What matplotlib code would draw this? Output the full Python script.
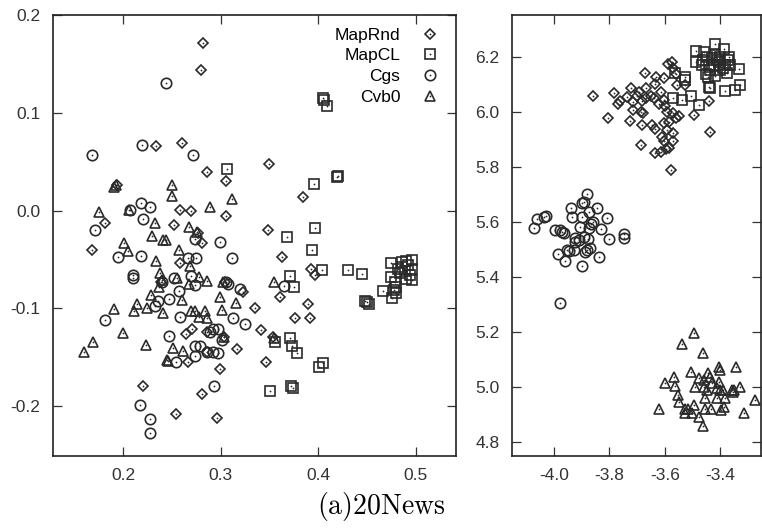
import numpy as np
import matplotlib
matplotlib.use('Agg')
import matplotlib.pyplot as plt
from matplotlib.legend_handler import HandlerTuple

plt.rcParams['font.family'] = ['Liberation Sans', 'DejaVu Sans']
plt.rcParams['axes.unicode_minus'] = False
plt.rcParams['mathtext.fontset'] = 'cm'

# ---- left panel data ----
rnd_l = np.array([
    (0.282, 0.171), (0.280, 0.144), (0.234, 0.066), (0.260, 0.069), (0.286, 0.039),
    (0.305, 0.030), (0.349, 0.048), (0.384, 0.014), (0.194, 0.026), (0.258, 0.001),
    (0.269, 0.000), (0.181, -0.013), (0.252, -0.015), (0.305, -0.006), (0.348, -0.020),
    (0.168, -0.040), (0.277, -0.023), (0.281, -0.033), (0.258, -0.054), (0.239, -0.073),
    (0.304, -0.073), (0.363, -0.047), (0.392, -0.060), (0.396, -0.066), (0.361, -0.088),
    (0.323, -0.083), (0.335, -0.100), (0.389, -0.096), (0.391, -0.110), (0.376, -0.110),
    (0.341, -0.122), (0.353, -0.129), (0.317, -0.142), (0.346, -0.155), (0.303, -0.129),
    (0.270, -0.121), (0.264, -0.126), (0.286, -0.124), (0.266, -0.155), (0.299, -0.162),
    (0.220, -0.179), (0.281, -0.188), (0.254, -0.208), (0.296, -0.212), (0.286, -0.145),
])
cl_l = np.array([
    (0.405, 0.115), (0.406, 0.113), (0.409, 0.107), (0.306, 0.043), (0.395, 0.027),
    (0.419, 0.034), (0.420, 0.035), (0.396, -0.018), (0.368, -0.027), (0.393, -0.040),
    (0.404, -0.061), (0.430, -0.061), (0.445, -0.065), (0.371, -0.067), (0.375, -0.078),
    (0.448, -0.092), (0.450, -0.094), (0.452, -0.096), (0.371, -0.130), (0.355, -0.134),
    (0.373, -0.139), (0.378, -0.146), (0.405, -0.156), (0.401, -0.160), (0.350, -0.185),
    (0.372, -0.179), (0.374, -0.181),
    (0.474, -0.054), (0.474, -0.068), (0.466, -0.082), (0.475, -0.089), (0.480, -0.078),
    (0.486, -0.053), (0.490, -0.052), (0.496, -0.051), (0.496, -0.060), (0.496, -0.071),
    (0.489, -0.062), (0.490, -0.070), (0.480, -0.084), (0.477, -0.081), (0.486, -0.058),
    (0.492, -0.056), (0.484, -0.064), (0.478, -0.073), (0.494, -0.066), (0.482, -0.060),
])
cgs_l = np.array([
    (0.244, 0.130), (0.168, 0.057), (0.219, 0.067), (0.271, 0.057), (0.218, 0.008),
    (0.227, 0.004), (0.207, 0.001), (0.220, -0.009), (0.171, -0.020), (0.274, -0.029),
    (0.299, -0.032), (0.195, -0.047), (0.218, -0.046), (0.266, -0.048), (0.275, -0.049),
    (0.311, -0.049), (0.210, -0.066), (0.210, -0.069), (0.240, -0.073), (0.252, -0.069),
    (0.269, -0.067), (0.274, -0.076), (0.257, -0.082), (0.305, -0.073), (0.307, -0.075),
    (0.365, -0.077), (0.320, -0.080), (0.247, -0.090), (0.236, -0.092), (0.233, -0.098),
    (0.181, -0.112), (0.258, -0.109), (0.312, -0.110), (0.325, -0.116), (0.247, -0.128),
    (0.292, -0.121), (0.297, -0.121), (0.289, -0.124), (0.301, -0.132), (0.274, -0.139),
    (0.279, -0.139), (0.274, -0.149), (0.286, -0.145), (0.292, -0.145), (0.297, -0.146),
    (0.254, -0.155), (0.293, -0.179), (0.217, -0.199), (0.227, -0.213), (0.227, -0.227),
])
cvb_l = np.array([
    (0.191, 0.024), (0.193, 0.026), (0.250, 0.026), (0.250, 0.015), (0.311, 0.012),
    (0.289, 0.004), (0.175, -0.001), (0.206, 0.001), (0.233, -0.013), (0.267, -0.017),
    (0.276, -0.022), (0.229, -0.026), (0.241, -0.030), (0.244, -0.030), (0.201, -0.033),
    (0.257, -0.040), (0.205, -0.041), (0.234, -0.052), (0.268, -0.057), (0.238, -0.064),
    (0.237, -0.078), (0.240, -0.071), (0.255, -0.069), (0.278, -0.068), (0.286, -0.072),
    (0.354, -0.073), (0.267, -0.075), (0.228, -0.086), (0.260, -0.091), (0.299, -0.088),
    (0.316, -0.095), (0.214, -0.096), (0.191, -0.101), (0.211, -0.103), (0.224, -0.100),
    (0.241, -0.105), (0.269, -0.103), (0.274, -0.103), (0.284, -0.103), (0.278, -0.109),
    (0.286, -0.110), (0.301, -0.102), (0.200, -0.125), (0.169, -0.134), (0.160, -0.145),
    (0.223, -0.137), (0.251, -0.141), (0.261, -0.144), (0.245, -0.153), (0.246, -0.154),
    (0.303, -0.129), (0.354, -0.130), (0.302, -0.073),
])

# ---- right panel data ----
rnd_r = np.array([
    (-3.859, 6.058), (-3.805, 5.978), (-3.783, 6.069), (-3.769, 6.029), (-3.761, 6.040),
    (-3.736, 6.055), (-3.721, 6.087), (-3.714, 6.036), (-3.725, 5.967), (-3.693, 6.073),
    (-3.682, 6.040), (-3.714, 6.007), (-3.678, 5.996), (-3.682, 5.953), (-3.671, 6.142),
    (-3.667, 6.087), (-3.667, 6.051), (-3.638, 6.051), (-3.635, 6.102), (-3.631, 6.127),
    (-3.613, 6.073), (-3.602, 6.124), (-3.646, 5.953), (-3.635, 5.938), (-3.602, 6.044),
    (-3.599, 6.022), (-3.602, 5.960), (-3.584, 5.964), (-3.588, 6.175), (-3.573, 6.182),
    (-3.570, 6.160), (-3.570, 5.996), (-3.548, 5.985), (-3.591, 5.935), (-3.570, 5.924),
    (-3.570, 5.895), (-3.602, 5.895), (-3.685, 5.880), (-3.635, 5.851), (-3.613, 5.855),
    (-3.595, 5.865), (-3.577, 5.789), (-3.559, 6.138), (-3.555, 6.098), (-3.526, 6.098),
    (-3.494, 5.989), (-3.439, 6.040), (-3.436, 5.927), (-3.686, 6.000), (-3.700, 6.060),
    (-3.650, 6.060), (-3.620, 6.030), (-3.590, 6.000), (-3.560, 5.980), (-3.610, 5.910),
    (-3.585, 5.870),
])
cl_r = np.array([
    (-3.418, 6.247), (-3.486, 6.222), (-3.486, 6.182), (-3.458, 6.218), (-3.385, 6.229),
    (-3.367, 6.200), (-3.331, 6.156), (-3.363, 6.171), (-3.443, 6.127), (-3.439, 6.091),
    (-3.436, 6.087), (-3.382, 6.076), (-3.345, 6.080), (-3.327, 6.098), (-3.400, 6.153),
    (-3.429, 6.196), (-3.403, 6.182), (-3.465, 6.171), (-3.439, 6.171), (-3.421, 6.171),
    (-3.418, 6.207), (-3.447, 6.200), (-3.382, 6.171), (-3.400, 6.200), (-3.436, 6.153),
    (-3.374, 6.142), (-3.562, 6.142), (-3.526, 6.116), (-3.570, 6.051), (-3.537, 6.044),
    (-3.504, 6.058), (-3.476, 6.025), (-3.526, 6.127), (-3.460, 6.190), (-3.410, 6.190),
    (-3.390, 6.160), (-3.450, 6.140), (-3.420, 6.130), (-3.370, 6.190),
])
cgs_r = np.array([
    (-4.072, 5.578), (-4.061, 5.611), (-4.036, 5.618), (-4.029, 5.622), (-3.996, 5.571),
    (-3.978, 5.571), (-3.971, 5.564), (-3.964, 5.560), (-3.986, 5.484), (-3.960, 5.458),
    (-3.953, 5.498), (-3.946, 5.495), (-3.928, 5.498), (-3.899, 5.440), (-3.939, 5.651),
    (-3.935, 5.618), (-3.899, 5.669), (-3.892, 5.673), (-3.881, 5.702), (-3.906, 5.582),
    (-3.899, 5.618), (-3.873, 5.636), (-3.845, 5.651), (-3.808, 5.615), (-3.830, 5.575),
    (-3.859, 5.600), (-3.924, 5.542), (-3.924, 5.527), (-3.892, 5.546), (-3.877, 5.538),
    (-3.881, 5.498), (-3.888, 5.491), (-3.837, 5.473), (-3.801, 5.538), (-3.747, 5.556),
    (-3.747, 5.542), (-3.978, 5.305), (-3.873, 5.578), (-3.866, 5.593), (-3.910, 5.535),
    (-3.870, 5.505),
])
cvb_r = np.array([
    (-3.494, 5.196), (-3.537, 5.156), (-3.461, 5.124), (-3.504, 5.055), (-3.403, 5.073),
    (-3.400, 5.062), (-3.342, 5.073), (-3.443, 5.051), (-3.436, 5.036), (-3.566, 5.036),
    (-3.476, 5.033), (-3.599, 5.015), (-3.562, 5.004), (-3.490, 5.000), (-3.458, 5.000),
    (-3.429, 5.015), (-3.403, 5.018), (-3.400, 4.989), (-3.356, 4.989), (-3.349, 4.989),
    (-3.327, 5.000), (-3.273, 4.953), (-3.552, 4.971), (-3.548, 4.945), (-3.454, 4.960),
    (-3.410, 4.960), (-3.382, 4.960), (-3.494, 4.935), (-3.526, 4.920), (-3.515, 4.920),
    (-3.620, 4.920), (-3.454, 4.920), (-3.432, 4.920), (-3.396, 4.916), (-3.385, 4.927),
    (-3.476, 4.891), (-3.461, 4.858), (-3.313, 4.905), (-3.501, 4.905), (-3.526, 4.905),
    (-3.447, 4.989), (-3.458, 5.025), (-3.353, 4.982), (-3.410, 4.996), (-3.389, 4.989),
])

names = ['MapRnd', 'MapCL', 'Cgs', 'Cvb0']
markers = ['D', 's', 'o', '^']
msizes = [5.2, 7.0, 7.5, 7.5]
col = '#2a2a2a'

fig = plt.figure(figsize=(7.62, 5.29), dpi=100)
ax1 = fig.add_axes([53 / 762, 73 / 529, 403 / 762, 441 / 529])
ax2 = fig.add_axes([512 / 762, 73 / 529, 249 / 762, 441 / 529])


def draw(ax, sets):
    handles = []
    for pts, m, ms in zip(sets, markers, msizes):
        h, = ax.plot(pts[:, 0], pts[:, 1], ls='none', marker=m, ms=ms,
                     mfc='none', mec=col, mew=1.2)
        d, = ax.plot(pts[:, 0], pts[:, 1], ls='none', marker='o', ms=1.3,
                     mfc=col, mec=col, mew=0)
        handles.append((h, d))
    return handles


hs = draw(ax1, [rnd_l, cl_l, cgs_l, cvb_l])
draw(ax2, [rnd_r, cl_r, cgs_r, cvb_r])

ax1.set_xlim(0.128, 0.541)
ax1.set_ylim(-0.251, 0.2)
ax1.set_xticks([0.2, 0.3, 0.4, 0.5])
ax1.set_yticks([-0.2, -0.1, 0.0, 0.1, 0.2])
ax1.set_xticklabels(['0.2', '0.3', '0.4', '0.5'])
ax1.set_yticklabels(['-0.2', '-0.1', '0.0', '0.1', '0.2'])

ax2.set_xlim(-4.152, -3.252)
ax2.set_ylim(4.749, 6.353)
ax2.set_xticks([-4.0, -3.8, -3.6, -3.4])
ax2.set_yticks([4.8, 5.0, 5.2, 5.4, 5.6, 5.8, 6.0, 6.2])
ax2.set_xticklabels(['-4.0', '-3.8', '-3.6', '-3.4'])
ax2.set_yticklabels(['4.8', '5.0', '5.2', '5.4', '5.6', '5.8', '6.0', '6.2'])

for ax in (ax1, ax2):
    ax.tick_params(direction='in', length=6.5, width=0.9, top=True, right=True,
                   labelsize=12.5, colors='#333', pad=9)
    for s in ax.spines.values():
        s.set_linewidth(1.2)
        s.set_color('#222')

ax1.legend(hs, names, handler_map={tuple: HandlerTuple(ndivide=1)},
           loc='upper right', bbox_to_anchor=(0.995, 0.995), frameon=False,
           markerfirst=False, fontsize=12.5, handlelength=1.6, handletextpad=0.9,
           labelspacing=0.32, borderaxespad=0.2)

fig.text(0.5, 0.012, r'$\mathrm{(a)20News}$', ha='center', va='bottom', fontsize=20)

fig.savefig('out.png', dpi=100)
